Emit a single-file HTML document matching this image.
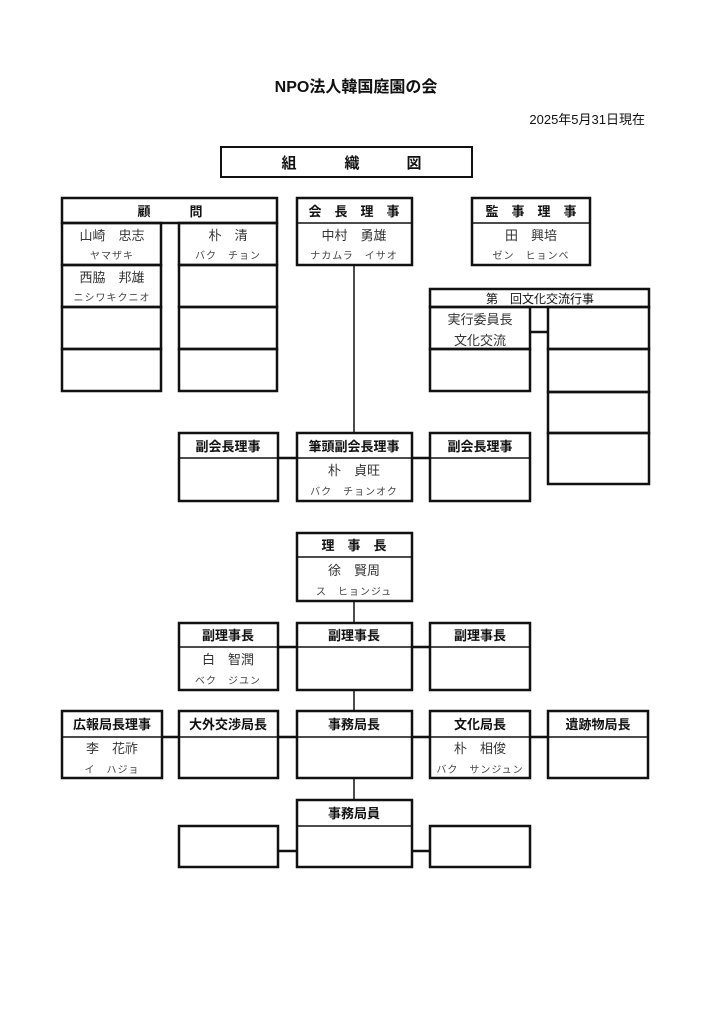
<!DOCTYPE html>
<html><head><meta charset="utf-8"><style>
html,body{margin:0;padding:0;background:#fff;}
svg{display:block;}
text{font-family:"Liberation Sans","Noto Sans CJK JP",sans-serif;fill:#111;}
.h{font-size:13px;font-weight:bold;}
.n{font-size:13px;fill:#333;}
.k{font-size:10px;fill:#444;letter-spacing:1px;}
</style></head><body>
<svg width="724" height="1024" viewBox="0 0 724 1024" xmlns="http://www.w3.org/2000/svg">
<rect width="724" height="1024" fill="#fff"/>
<text x="356" y="92" text-anchor="middle" style="font-size:16px;font-weight:bold">NPO法人韓国庭園の会</text>
<text x="645" y="124" text-anchor="end" style="font-size:13px">2025年5月31日現在</text>
<g fill="none" stroke="#111" stroke-width="2.5">
<rect x="221" y="147" width="251" height="30" stroke-width="2"/>
<!-- 顧問 -->
<rect x="62" y="198" width="215" height="25"/>
<rect x="62" y="223" width="99" height="42"/><rect x="62" y="265" width="99" height="42"/><rect x="62" y="307" width="99" height="42"/><rect x="62" y="349" width="99" height="42"/>
<rect x="179" y="223" width="98" height="42"/><rect x="179" y="265" width="98" height="42"/><rect x="179" y="307" width="98" height="42"/><rect x="179" y="349" width="98" height="42"/>
<!-- 会長理事 -->
<rect x="297" y="198" width="115" height="67"/><line x1="297" y1="223" x2="412" y2="223" stroke-width="1.5"/>
<!-- 監事理事 -->
<rect x="472" y="198" width="118" height="67"/><line x1="472" y1="223" x2="590" y2="223" stroke-width="1.5"/>
<!-- 文化交流行事 -->
<rect x="430" y="289" width="219" height="18"/>
<rect x="430" y="307" width="100" height="42"/><rect x="430" y="349" width="100" height="42"/>
<rect x="548" y="307" width="101" height="42"/><rect x="548" y="349" width="101" height="43"/><rect x="548" y="392" width="101" height="41"/><rect x="548" y="433" width="101" height="51"/>
<line x1="530" y1="332" x2="548" y2="332"/>
<!-- 副会長 row -->
<line x1="354" y1="265" x2="354" y2="433" stroke-width="1.5"/>
<rect x="179" y="433" width="99" height="68"/><line x1="179" y1="458" x2="278" y2="458" stroke-width="1.5"/>
<rect x="297" y="433" width="115" height="68"/><line x1="297" y1="458" x2="412" y2="458" stroke-width="1.5"/>
<rect x="430" y="433" width="100" height="68"/><line x1="430" y1="458" x2="530" y2="458" stroke-width="1.5"/>
<line x1="278" y1="458" x2="297" y2="458"/><line x1="412" y1="458" x2="430" y2="458"/>
<!-- 理事長 -->
<rect x="297" y="533" width="115" height="68"/><line x1="297" y1="557" x2="412" y2="557" stroke-width="1.5"/>
<line x1="354" y1="601" x2="354" y2="623" stroke-width="1.5"/>
<!-- 副理事長 -->
<rect x="179" y="623" width="99" height="67"/><line x1="179" y1="647" x2="278" y2="647" stroke-width="1.5"/>
<rect x="297" y="623" width="115" height="67"/><line x1="297" y1="647" x2="412" y2="647" stroke-width="1.5"/>
<rect x="430" y="623" width="100" height="67"/><line x1="430" y1="647" x2="530" y2="647" stroke-width="1.5"/>
<line x1="278" y1="647" x2="297" y2="647"/><line x1="412" y1="647" x2="430" y2="647"/>
<line x1="354" y1="690" x2="354" y2="711" stroke-width="1.5"/>
<!-- 局長 row -->
<rect x="62" y="711" width="100" height="67"/><line x1="62" y1="737" x2="162" y2="737" stroke-width="1.5"/>
<rect x="179" y="711" width="99" height="67"/><line x1="179" y1="737" x2="278" y2="737" stroke-width="1.5"/>
<rect x="297" y="711" width="115" height="67"/><line x1="297" y1="737" x2="412" y2="737" stroke-width="1.5"/>
<rect x="430" y="711" width="100" height="67"/><line x1="430" y1="737" x2="530" y2="737" stroke-width="1.5"/>
<rect x="548" y="711" width="100" height="67"/><line x1="548" y1="737" x2="648" y2="737" stroke-width="1.5"/>
<line x1="162" y1="737" x2="179" y2="737"/><line x1="278" y1="737" x2="297" y2="737"/><line x1="412" y1="737" x2="430" y2="737"/><line x1="530" y1="737" x2="548" y2="737"/>
<line x1="354" y1="778" x2="354" y2="800" stroke-width="1.5"/>
<!-- 事務局員 -->
<rect x="297" y="800" width="115" height="67"/><line x1="297" y1="826" x2="412" y2="826" stroke-width="1.5"/>
<rect x="179" y="826" width="99" height="41"/><rect x="430" y="826" width="100" height="41"/>
<line x1="278" y1="851" x2="297" y2="851"/><line x1="412" y1="851" x2="430" y2="851"/>
</g>
<g text-anchor="middle">
<text x="289" y="168" style="font-size:15px;font-weight:bold">組</text>
<text x="352" y="168" style="font-size:15px;font-weight:bold">織</text>
<text x="414" y="168" style="font-size:15px;font-weight:bold">図</text>
<text x="170" y="216" class="h" xml:space="preserve">顧　　　問</text>
<text x="354" y="216" class="h" xml:space="preserve">会　長　理　事</text>
<text x="531" y="216" class="h" xml:space="preserve">監　事　理　事</text>
<text x="112" y="240" class="n" xml:space="preserve">山崎　忠志</text>
<text x="112" y="259" class="k">ヤマザキ</text>
<text x="112" y="282" class="n" xml:space="preserve">西脇　邦雄</text>
<text x="112" y="301" class="k">ニシワキクニオ</text>
<text x="228" y="240" class="n" xml:space="preserve">朴　清</text>
<text x="228" y="259" class="k" xml:space="preserve">バク　チョン</text>
<text x="354" y="240" class="n" xml:space="preserve">中村　勇雄</text>
<text x="354" y="259" class="k" xml:space="preserve">ナカムラ　イサオ</text>
<text x="531" y="240" class="n" xml:space="preserve">田　興培</text>
<text x="531" y="259" class="k" xml:space="preserve">ゼン　ヒョンベ</text>
<text x="540" y="303" style="font-size:12px" xml:space="preserve">第　回文化交流行事</text>
<text x="480" y="324" class="n">実行委員長</text>
<text x="480" y="345" class="n">文化交流</text>
<text x="228" y="451" class="h">副会長理事</text>
<text x="354" y="451" class="h">筆頭副会長理事</text>
<text x="480" y="451" class="h">副会長理事</text>
<text x="354" y="475" class="n" xml:space="preserve">朴　貞旺</text>
<text x="354" y="495" class="k" xml:space="preserve">バク　チョンオク</text>
<text x="354" y="550" class="h" xml:space="preserve">理　事　長</text>
<text x="354" y="575" class="n" xml:space="preserve">徐　賢周</text>
<text x="354" y="595" class="k" xml:space="preserve">ス　ヒョンジュ</text>
<text x="228" y="640" class="h">副理事長</text>
<text x="354" y="640" class="h">副理事長</text>
<text x="480" y="640" class="h">副理事長</text>
<text x="228" y="664" class="n" xml:space="preserve">白　智潤</text>
<text x="228" y="684" class="k" xml:space="preserve">ベク　ジユン</text>
<text x="112" y="729" class="h">広報局長理事</text>
<text x="228" y="729" class="h">大外交渉局長</text>
<text x="354" y="729" class="h">事務局長</text>
<text x="480" y="729" class="h">文化局長</text>
<text x="598" y="729" class="h">遺跡物局長</text>
<text x="112" y="753" class="n" xml:space="preserve">李　花祚</text>
<text x="112" y="773" class="k" xml:space="preserve">イ　ハジョ</text>
<text x="480" y="753" class="n" xml:space="preserve">朴　相俊</text>
<text x="480" y="773" class="k" xml:space="preserve">バク　サンジュン</text>
<text x="354" y="818" class="h">事務局員</text>
</g>
</svg>
</body></html>
